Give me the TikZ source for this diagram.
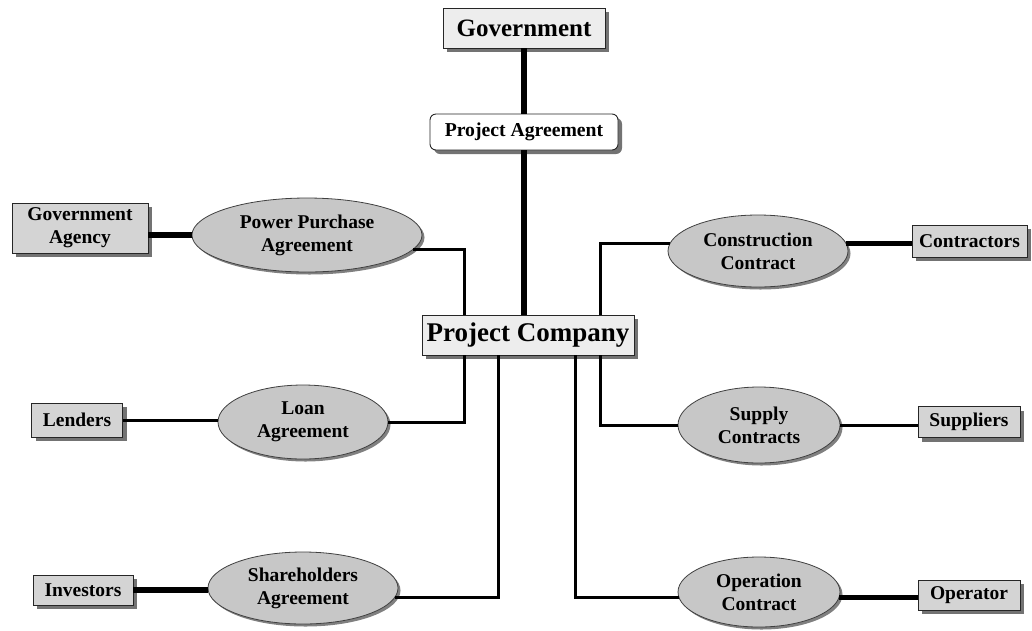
\documentclass[tikz,border=0pt]{standalone}
\usepackage{fontspec}
\setmainfont{Liberation Serif}
\usetikzlibrary{shapes.geometric,shadows}
\begin{document}
\begin{tikzpicture}[x=1pt,y=-1pt,
  boxshadow/.style={drop shadow={shadow xshift=4pt,shadow yshift=-4pt,fill=black!55,opacity=1}},
  party/.style={rectangle, draw=black!85, line width=0.9pt, fill=black!17, inner sep=0pt, align=center,
    font=\fontsize{19.5}{23}\selectfont\bfseries, boxshadow},
  mainbox/.style={party, fill=black!7},
  agree/.style={ellipse, draw=black!75, line width=0.8pt, fill=black!22, inner sep=0pt, align=center,
    font=\fontsize{19.5}{23}\selectfont\bfseries,
    drop shadow={shadow xshift=2.5pt,shadow yshift=-2.5pt,fill=black!50,opacity=1}},
  thickline/.style={line width=5.5pt},
  thinline/.style={line width=3pt}
]
\useasboundingbox (0,0) rectangle (1032,630);

% nodes
\node[mainbox, minimum width=162, minimum height=40, font=\fontsize{25}{28}\selectfont\bfseries] (gov) at (524,28) {Government};
\node[party, fill=white, rounded corners=6pt, minimum width=188, minimum height=36, font=\fontsize{19.7}{23}\selectfont\bfseries] (pa) at (524,132) {Project Agreement};
\node[mainbox, minimum width=212, minimum height=40, font=\fontsize{27}{30}\selectfont\bfseries] (pc) at (528,335) {Project Company};

\node[party, minimum width=136, minimum height=50] (ga) at (80,228) {Government\\Agency};
\node[agree, minimum width=230, minimum height=74] (ppa) at (307,235) {Power Purchase\\Agreement};

\node[party, minimum width=91, minimum height=34] (lenders) at (77,420) {Lenders};
\node[agree, minimum width=170, minimum height=74] (loan) at (303,422) {Loan\\Agreement};

\node[party, minimum width=100, minimum height=30] (investors) at (83,590) {Investors};
\node[agree, minimum width=190, minimum height=72] (sha) at (303,588) {Shareholders\\Agreement};

\node[agree, minimum width=180, minimum height=72] (cc) at (758,251) {Construction\\Contract};
\node[party, minimum width=115, minimum height=32] (contractors) at (969.5,241) {Contractors};

\node[agree, minimum width=162, minimum height=76] (sc) at (759,425) {Supply\\Contracts};
\node[party, minimum width=102, minimum height=31] (suppliers) at (969,422) {Suppliers};

\node[agree, minimum width=162, minimum height=70] (oc) at (759,592) {Operation\\Contract};
\node[party, minimum width=102, minimum height=30] (operator) at (969,595) {Operator};

% connectors
\draw[thickline] (gov.south) -- (gov.south |- pa.north);
\draw[thickline] (pa.south) -- (pa.south |- pc.north);

\draw[thinline] (ppa.-8) -| ([xshift=43pt]pc.north west);
\draw[thickline] (ppa.west -| ga.east) -- (ppa.west);

\draw[thinline] (cc.175) -| ([xshift=179pt]pc.north west);
\draw[thickline] (cc.5) -- (cc.5 -| contractors.west);

\draw[thinline] (loan.east) -| ([xshift=43pt]pc.south west);
\draw[thinline] (lenders.east) -- (lenders.east -| loan.west);

\draw[thinline] (sha.-6) -| ([xshift=77pt]pc.south west);
\draw[thickline] (investors.east) -- (investors.east -| sha.west);

\draw[thinline] (sc.west) -| ([xshift=179pt]pc.south west);
\draw[thinline] (sc.east) -- (sc.east -| suppliers.west);

\draw[thinline] (oc.184) -| ([xshift=154pt]pc.south west);
\draw[thickline] (oc.-4) -- (oc.-4 -| operator.west);
\end{tikzpicture}
\end{document}
